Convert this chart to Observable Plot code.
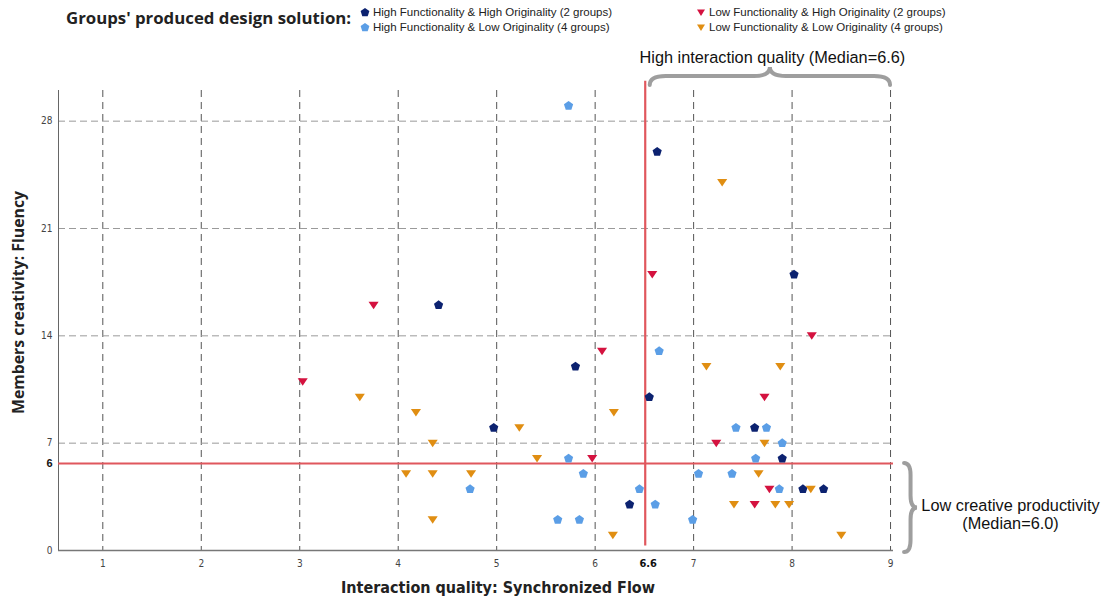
<!DOCTYPE html>
<html><head><meta charset="utf-8">
<script src="https://cdn.jsdelivr.net/npm/d3@7"></script>
<script src="https://cdn.jsdelivr.net/npm/@observablehq/plot@0.6"></script>
<style>
body{margin:0;background:#fff;width:1113px;height:600px;overflow:hidden;font-family:"Liberation Sans",Arial,sans-serif}
#legend{position:relative;height:36px;width:1113px}
.ltitle{position:absolute;left:66px;top:6px;font:bold 16.8px "Open Sans",sans-serif;color:#222;white-space:nowrap}
.item{position:absolute;font-size:11.5px;color:#222;white-space:nowrap;line-height:14px}
.item svg{vertical-align:-1px;margin-right:3px}
</style></head><body>
<div id="legend"></div>
<div id="chart"></div>
<script>
// ---- data ----
const seriesNames = [
  "High Functionality & High Originality (2 groups)",
  "High Functionality & Low Originality (4 groups)",
  "Low Functionality & High Originality (2 groups)",
  "Low Functionality & Low Originality (4 groups)"
];
const seriesColors = ["#0c2270", "#5b9ee6", "#d4123f", "#e08e12"];
const seriesShapes = ["pentagon", "pentagon", "triangleDown", "triangleDown"];

const hfhoX = [4.41, 5.80, 4.97, 6.35, 6.63, 8.02, 6.55, 7.62, 7.90, 8.11, 8.32];
const hfhoY = [16, 12, 8, 3, 26, 18, 10, 8, 6, 4, 4];
const hfloX = [5.73, 6.65, 5.73, 5.88, 4.73, 6.45, 6.61, 5.62, 5.84, 7.43, 7.74, 7.90, 7.63, 7.05, 7.39, 7.87, 6.99];
const hfloY = [29, 13, 6, 5, 4, 4, 3, 2, 2, 8, 8, 7, 6, 5, 5, 4, 2];
const lfhoX = [3.75, 6.07, 3.03, 5.97, 6.58, 8.20, 7.72, 7.23, 7.77, 7.62];
const lfhoY = [16, 13, 11, 6, 18, 14, 10, 7, 4, 3];
const lfloX = [3.61, 4.18, 6.19, 5.23, 4.35, 5.41, 4.08, 4.35, 4.74, 4.35, 6.18, 7.29, 7.13, 7.88, 7.72, 7.66, 8.19, 7.41, 7.83, 7.97, 8.50];
const lfloY = [10, 9, 9, 8, 7, 6, 5, 5, 5, 2, 1, 24, 12, 12, 7, 5, 4, 3, 3, 3, 1];

const xTicks = [1, 2, 3, 4, 5, 6, 7, 8, 9];
const yTicks = [0, 7, 14, 21, 28];
const medianX = 6.6;
const medianY = 6;
const xLabel = "Interaction quality: Synchronized Flow";
const yLabel = "Members creativity: Fluency";
const legendTitle = "Groups' produced design solution:";
const topNote = "High interaction quality (Median=6.6)";
const rightNote = "Low creative productivity\n(Median=6.0)";
const xDomain = [0.55, 9.03];
const yDomain = [0, 30];

// ---- table ----
const seriesX = [hfhoX, hfloX, lfhoX, lfloX];
const seriesY = [hfhoY, hfloY, lfhoY, lfloY];
const table = [];
seriesNames.forEach((s, i) => seriesX[i].forEach((x, j) => table.push({series: s, shape: seriesShapes[i], x, y: seriesY[i][j]})));

// ---- symbols ----
const pentagon = {draw(ctx, size) {
  const R = Math.sqrt(size / Math.PI) * 1.15;
  for (let i = 0; i < 5; i++) {
    const a = -Math.PI / 2 + i * 2 * Math.PI / 5;
    const px = R * Math.cos(a), py = R * Math.sin(a);
    i ? ctx.lineTo(px, py) : ctx.moveTo(px, py);
  }
  ctx.closePath();
}};
const triangleDown = {draw(ctx, size) {
  const R = Math.sqrt(size / Math.PI) * 1.2;
  ctx.moveTo(0, R * 0.8); ctx.lineTo(-R, -R * 0.7); ctx.lineTo(R, -R * 0.7); ctx.closePath();
}};

// ---- legend (HTML) ----
const legend = document.getElementById("legend");
legend.innerHTML = `<div class="ltitle">${legendTitle}</div>`;
const legPos = [[360, 5], [360, 20], [696, 5], [696, 20]];
seriesNames.forEach((s, i) => {
  const d = document.createElement("div");
  d.className = "item";
  d.style.left = legPos[i][0] + "px";
  d.style.top = legPos[i][1] + "px";
  const shape = seriesShapes[i] === "pentagon"
    ? `<polygon points="${d3.range(5).map(k => { const a = -Math.PI/2 + k*2*Math.PI/5; return [5 + 4.6*Math.cos(a), 5.5 + 4.6*Math.sin(a)].join(","); }).join(" ")}" fill="${seriesColors[i]}"/>`
    : `<polygon points="1,2.5 9,2.5 5,9" fill="${seriesColors[i]}"/>`;
  d.innerHTML = `<svg width="10" height="10">${shape}</svg>${s}`;
  legend.appendChild(d);
});

// ---- plot ----
const tickFont = '"DejaVu Sans Condensed","Liberation Sans Narrow",sans-serif';
const plot = Plot.plot({
  width: 1113, height: 564,
  marginLeft: 58, marginRight: 220, marginTop: 54, marginBottom: 50,
  x: {domain: xDomain, axis: null},
  y: {domain: yDomain, axis: null},
  color: {domain: seriesNames, range: seriesColors},
  style: {fontFamily: '"Liberation Sans",Arial,sans-serif', background: "white", overflow: "visible"},
  marks: [
    Plot.gridX(xTicks, {stroke: "#555", strokeOpacity: 1, strokeDasharray: "7,5"}),
    Plot.gridY(yTicks.filter(d => d > 0), {stroke: "#9a9a9a", strokeOpacity: 1, strokeDasharray: "7,4"}),
    Plot.ruleY([yDomain[0]], {stroke: "#777", strokeWidth: 1.5}),
    Plot.ruleX([xDomain[0]], {stroke: "#666", strokeWidth: 1}),
    Plot.axisX(xTicks, {tickSize: 0, tickPadding: 9, fontSize: 10, fill: "#444", fontFamily: tickFont, label: null}),
    Plot.axisY(yTicks, {tickSize: 0, tickPadding: 6, fontSize: 10, fill: "#444", fontFamily: tickFont, label: null}),
    Plot.ruleX([medianX], {stroke: "#e0575d", strokeWidth: 2.2, dx: -9, y1: yDomain[0] + 0.3, y2: yDomain[1] + 0.6}),
    Plot.ruleY([medianY], {stroke: "#e0575d", strokeWidth: 2.2, dy: 5}),
    Plot.text([medianY], {y: d => d, text: d => String(d), frameAnchor: "left", textAnchor: "end", dx: -6, dy: 5, fontWeight: "bold", fontSize: 11, fill: "#111"}),
    Plot.text([medianX], {x: d => d, text: d => String(d), frameAnchor: "bottom", lineAnchor: "top", dx: -6, dy: 9, fontWeight: "bold", fontSize: 11, fill: "#111", fontFamily: tickFont}),
    Plot.dot(table.filter(d => d.shape === "pentagon"), {x: "x", y: "y", fill: "series", symbol: pentagon, r: 4.2}),
    Plot.dot(table.filter(d => d.shape === "triangleDown"), {x: "x", y: "y", fill: "series", symbol: triangleDown, r: 4.2}),
    Plot.text([xLabel], {text: d => d, frameAnchor: "bottom", lineAnchor: "middle", textAnchor: "middle", dx: 22, dy: 37, fontWeight: "bold", fontSize: 16, fill: "#222", fontFamily: tickFont}),
    Plot.text([yLabel], {text: d => d, frameAnchor: "left", lineAnchor: "middle", textAnchor: "middle", rotate: -90, dx: -40, dy: -18, fontWeight: "bold", fontSize: 15.8, fill: "#222", fontFamily: '"Open Sans",sans-serif'}),
    Plot.text([topNote], {text: d => d, x: [(medianX + xTicks[xTicks.length - 1]) / 2], frameAnchor: "top", lineAnchor: "middle", dy: -33, fontSize: 16.3, fill: "#111"}),
    Plot.text([rightNote], {text: d => d, y: [(medianY + yTicks[0]) / 2], frameAnchor: "right", textAnchor: "middle", lineAnchor: "middle", dx: 117, dy: 10, fontSize: 16.3, fill: "#111", lineHeight: 1.1})
  ]
});
document.getElementById("chart").appendChild(plot);

// ---- braces ----
const sx = plot.scale("x").apply, sy = plot.scale("y").apply;
function braceH(x1, x2, y, h) {
  const m = (x1 + x2) / 2, r = 16, hh = h / 2;
  return `M${x1},${y} Q${x1},${y + hh} ${x1 + r},${y + hh} L${m - r},${y + hh} Q${m},${y + hh} ${m},${y + h} Q${m},${y + hh} ${m + r},${y + hh} L${x2 - r},${y + hh} Q${x2},${y + hh} ${x2},${y}`;
}
function braceV(y1, y2, x, h) {
  const m = (y1 + y2) / 2, r = 12, hh = h / 2;
  return `M${x},${y1} Q${x + hh},${y1} ${x + hh},${y1 + r} L${x + hh},${m - r} Q${x + hh},${m} ${x + h},${m} Q${x + hh},${m} ${x + hh},${m + r} L${x + hh},${y2 - r} Q${x + hh},${y2} ${x},${y2}`;
}
const svg = d3.select(plot);
svg.append("path")
  .attr("d", braceH(sx(medianX) - 4, sx(xTicks[xTicks.length - 1]), sy(yDomain[1]) - 5, -18))
  .attr("fill", "none").attr("stroke", "#9e9e9e").attr("stroke-width", 4).attr("stroke-linecap", "round");
svg.append("path")
  .attr("d", braceV(sy(medianY) + 5, sy(yDomain[0]) + 2, sx(xTicks[xTicks.length - 1]) + 14, 13))
  .attr("fill", "none").attr("stroke", "#9e9e9e").attr("stroke-width", 4).attr("stroke-linecap", "round");
</script>
</body></html>
